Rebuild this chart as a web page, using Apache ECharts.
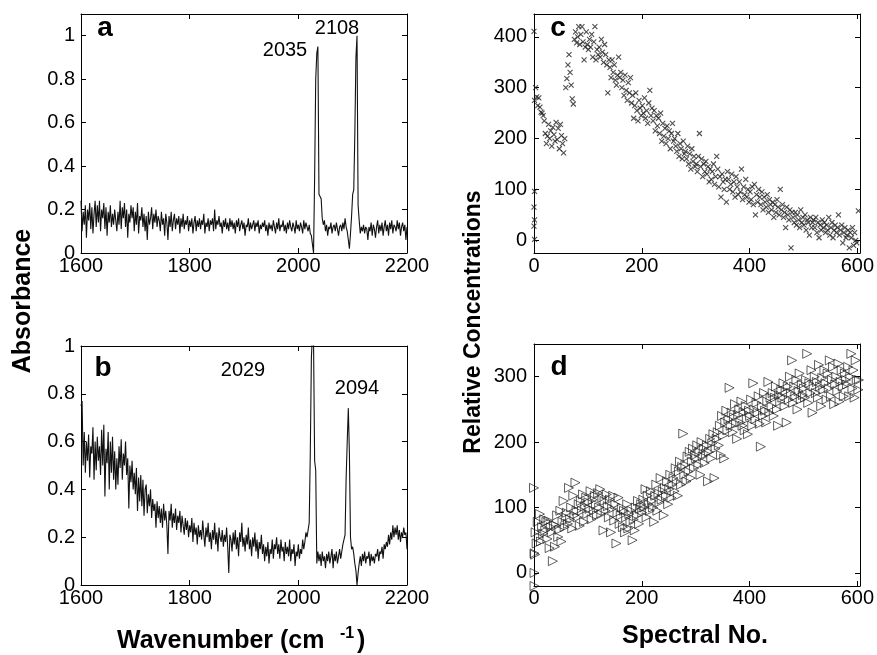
<!DOCTYPE html>
<html>
<head>
<meta charset="utf-8">
<script src="https://cdn.jsdelivr.net/npm/echarts@6/dist/echarts.min.js"></script>
<style>
  html, body {margin: 0; padding: 0; background: #fff;}
  #chart {width: 877px; height: 655px;}
</style>
</head>
<body>
<div id="chart"></div>
<script>
/* jshint esversion: 6 */

// wavenumber grid of the spectra: 1600 .. 2200 cm-1, one point every 2 cm-1
var waveStart = 1600;
var waveStep = 2;

// spectrum a
var absA = [
  0.24, 0.10, 0.19, 0.13, 0.22, 0.07, 0.20, 0.15, 0.23, 0.11,
  0.21, 0.09, 0.18, 0.24, 0.12, 0.22, 0.14, 0.24, 0.10, 0.20,
  0.16, 0.23, 0.11, 0.21, 0.08, 0.19, 0.14, 0.22, 0.12, 0.18,
  0.13, 0.20, 0.15, 0.10, 0.19, 0.13, 0.24, 0.11, 0.21, 0.16,
  0.23, 0.12, 0.20, 0.07, 0.18, 0.14, 0.22, 0.16, 0.21, 0.10,
  0.19, 0.13, 0.23, 0.09, 0.17, 0.15, 0.21, 0.12, 0.18, 0.10,
  0.17, 0.06, 0.19, 0.13, 0.16, 0.21, 0.11, 0.18, 0.14, 0.20,
  0.12, 0.17, 0.15, 0.10, 0.19, 0.13, 0.16, 0.08, 0.18, 0.14,
  0.06, 0.17, 0.12, 0.19, 0.10, 0.15, 0.18, 0.11, 0.16, 0.13,
  0.17, 0.09, 0.16, 0.12, 0.18, 0.11, 0.15, 0.13, 0.17, 0.10,
  0.15, 0.12, 0.16, 0.09, 0.14, 0.17, 0.10, 0.15, 0.12, 0.16,
  0.11, 0.15, 0.13, 0.18, 0.09, 0.14, 0.12, 0.16, 0.10, 0.15,
  0.13, 0.16, 0.10, 0.20, 0.11, 0.15, 0.13, 0.17, 0.12, 0.14,
  0.09, 0.15, 0.12, 0.16, 0.11, 0.14, 0.10, 0.16, 0.12, 0.15,
  0.11, 0.14, 0.09, 0.15, 0.12, 0.16, 0.10, 0.13, 0.15, 0.11,
  0.14, 0.08, 0.13, 0.12, 0.16, 0.10, 0.14, 0.11, 0.13, 0.15,
  0.10, 0.14, 0.12, 0.15, 0.09, 0.13, 0.11, 0.14, 0.12, 0.15,
  0.10, 0.13, 0.08, 0.14, 0.11, 0.13, 0.10, 0.15, 0.12, 0.09,
  0.14, 0.11, 0.16, 0.10, 0.13, 0.12, 0.15, 0.10, 0.13, 0.09,
  0.14, 0.11, 0.15, 0.12, 0.10, 0.14, 0.12, 0.09, 0.15, 0.11,
  0.13, 0.10, 0.14, 0.12, 0.09, 0.15, 0.11, 0.14, 0.12, 0.10,
  0.13, 0.09, 0.08, 0.04, 0.00, 0.35, 0.80, 0.92, 0.95, 0.27,
  0.26, 0.25, 0.16, 0.13, 0.15, 0.10, 0.13, 0.08, 0.12, 0.11,
  0.14, 0.09, 0.12, 0.13, 0.10, 0.14, 0.11, 0.08, 0.12, 0.13,
  0.10, 0.14, 0.11, 0.16, 0.12, 0.10, 0.06, 0.02, 0.09, 0.17,
  0.27, 0.29, 0.55, 0.90, 1.00, 0.22, 0.15, 0.09, 0.12, 0.10,
  0.13, 0.09, 0.12, 0.11, 0.06, 0.12, 0.10, 0.14, 0.08, 0.13,
  0.11, 0.07, 0.12, 0.15, 0.09, 0.13, 0.10, 0.14, 0.08, 0.12,
  0.15, 0.10, 0.13, 0.08, 0.14, 0.11, 0.15, 0.09, 0.13, 0.12,
  0.10, 0.15, 0.11, 0.14, 0.08, 0.12, 0.14, 0.10, 0.13, 0.06,
  0.12
];

// spectrum b
var absB = [
  0.75, 0.77, 0.50, 0.64, 0.47, 0.60, 0.52, 0.63, 0.45, 0.58,
  0.55, 0.66, 0.44, 0.60, 0.48, 0.62, 0.52, 0.58, 0.46, 0.65,
  0.50, 0.67, 0.37, 0.57, 0.51, 0.64, 0.40, 0.60, 0.47, 0.62,
  0.44, 0.56, 0.40, 0.53, 0.42, 0.58, 0.49, 0.61, 0.44, 0.55,
  0.50, 0.60, 0.46, 0.53, 0.32, 0.50, 0.43, 0.52, 0.40, 0.47,
  0.38, 0.49, 0.31, 0.45, 0.35, 0.46, 0.33, 0.44, 0.29, 0.40,
  0.42, 0.30, 0.38, 0.33, 0.40, 0.28, 0.36, 0.31, 0.34, 0.24,
  0.35, 0.28, 0.33, 0.26, 0.32, 0.24, 0.34, 0.27, 0.31, 0.25,
  0.13, 0.31, 0.27, 0.34, 0.24, 0.30, 0.26, 0.32, 0.23, 0.29,
  0.26, 0.31, 0.22, 0.29, 0.25, 0.21, 0.28, 0.23, 0.27, 0.20,
  0.25, 0.22, 0.28, 0.18, 0.26, 0.21, 0.24, 0.17, 0.25, 0.20,
  0.23, 0.19, 0.27, 0.21, 0.16, 0.24, 0.20, 0.26, 0.18, 0.22,
  0.15, 0.23, 0.19, 0.26, 0.17, 0.22, 0.14, 0.24, 0.20, 0.18,
  0.23, 0.16, 0.21, 0.18, 0.24, 0.16, 0.05, 0.21, 0.19, 0.14,
  0.22, 0.17, 0.23, 0.15, 0.20, 0.12, 0.22, 0.18, 0.26, 0.16,
  0.20, 0.14, 0.21, 0.17, 0.24, 0.15, 0.19, 0.12, 0.20, 0.16,
  0.22, 0.14, 0.19, 0.11, 0.18, 0.15, 0.21, 0.13, 0.17, 0.10,
  0.16, 0.12, 0.18, 0.09, 0.15, 0.13, 0.19, 0.11, 0.17, 0.15,
  0.20, 0.13, 0.17, 0.11, 0.19, 0.14, 0.16, 0.10, 0.18, 0.13,
  0.16, 0.12, 0.19, 0.10, 0.15, 0.13, 0.17, 0.08, 0.14, 0.12,
  0.17, 0.11, 0.15, 0.13, 0.19, 0.15, 0.18, 0.22, 0.20, 0.23,
  0.26, 0.55, 0.95, 1.05, 1.02, 0.52, 0.48, 0.09, 0.14, 0.10,
  0.13, 0.08, 0.14, 0.10, 0.12, 0.07, 0.13, 0.10, 0.14, 0.09,
  0.12, 0.15, 0.07, 0.13, 0.10, 0.14, 0.09, 0.12, 0.15, 0.11,
  0.14, 0.17, 0.19, 0.21, 0.45, 0.60, 0.74, 0.55, 0.20, 0.15,
  0.16, 0.13, 0.09, 0.06, 0.00, 0.05, 0.09, 0.12, 0.08, 0.13,
  0.10, 0.14, 0.09, 0.12, 0.11, 0.14, 0.08, 0.13, 0.10, 0.12,
  0.09, 0.13, 0.12, 0.15, 0.10, 0.14, 0.13, 0.16, 0.11, 0.17,
  0.15, 0.18, 0.16, 0.21, 0.17, 0.22, 0.19, 0.25, 0.20, 0.24,
  0.21, 0.25, 0.19, 0.23, 0.18, 0.22, 0.20, 0.24, 0.21, 0.22,
  0.15
];

// concentrations, spectral no. 1, 3, 5 ... 599
var concC = [
  275, 300, 282, 265, 280, 262, 252, 250, 245, 235,
  210, 190, 205, 228, 200, 215, 185, 222, 208, 195,
  232, 198, 220, 180, 228, 206, 190, 172, 200, 300,
  318, 345, 365, 330, 305, 278, 268, 395, 410, 388,
  400, 420, 385, 405, 420, 390, 355, 380, 410, 385,
  375, 395, 380, 405, 360, 390, 420, 355, 375, 365,
  380, 360, 395, 370, 350, 385, 365, 345, 290, 355,
  340, 320, 355, 330, 345, 315, 305, 325, 360, 320,
  330, 300, 315, 285, 325, 295, 275, 310, 290, 320,
  270, 285, 240, 265, 290, 255, 235, 275, 260, 245,
  265, 250, 280, 240, 255, 230, 270, 295, 245, 260,
  235, 255, 215, 245, 225, 240, 210, 250, 195, 230,
  205, 220, 190, 225, 200, 215, 180, 210, 230, 195,
  200, 185, 175, 210, 165, 190, 180, 160, 195, 170,
  175, 160, 185, 150, 170, 140, 180, 155, 165, 145,
  150, 135, 165, 210, 145, 160, 125, 150, 135, 155,
  130, 145, 115, 140, 120, 135, 150, 110, 125, 165,
  140, 105, 125, 85, 130, 115, 100, 120, 75, 135,
  120, 100, 110, 130, 95, 115, 85, 125, 105, 90,
  115, 95, 140, 80, 105, 90, 120, 85, 100, 75,
  95, 80, 105, 70, 110, 50, 90, 75, 100, 85,
  70, 95, 60, 85, 75, 65, 90, 55, 80, 70,
  60, 75, 45, 70, 55, 80, 65, 50, 100, 60,
  70, 45, 55, 25, 65, 50, 40, 60, -15, 55,
  45, 35, 55, 30, 50, 40, 25, 60, 35, 45,
  30, 50, 20, 40, 35, 10, 45, 25, 35, 40,
  25, 45, 15, 35, 5, 30, 20, 40, 25, 35,
  15, 30, 20, 45, 10, 25, 35, 5, 20, 30,
  15, 25, 50, 10, 20, 30, -5, 15, 25, 5,
  10, 20, -15, 15, 5, 25, -10, 15, 0, -5
];
// extra points of c off the regular grid [spectral no., value]
var extraC = [[0, 411], [1, 96], [0, 65], [1, 40], [0, 28], [1, 2], [602, 58]];

var concD = [
  30, 62, 45, 78, 55, 90, 48, 70, 60, 82,
  65, 78, 52, 80, 38, 70, 62, 18, 74, 40,
  72, 88, 55, 66, 95, 48, 78, 110, 70, 85,
  92, 75, 130, 82, 100, 68, 118, 88, 138, 95,
  85, 105, 72, 110, 95, 120, 78, 102, 115, 90,
  108, 98, 125, 82, 112, 95, 118, 105, 88, 122,
  100, 128, 90, 115, 65, 110, 95, 120, 102, 85,
  112, 62, 98, 118, 80, 105, 45, 92, 115, 75,
  88, 100, 70, 95, 62, 85, 105, 68, 90, 78,
  95, 50, 82, 65, 100, 88, 110, 75, 98, 105,
  92, 112, 100, 128, 85, 118, 105, 95, 125, 110,
  100, 78, 118, 135, 95, 122, 108, 145, 112, 125,
  88, 130, 118, 140, 105, 128, 150, 115, 135, 145,
  125, 160, 140, 118, 155, 170, 135, 162, 213, 150,
  165, 140, 178, 155, 185, 145, 170, 190, 160, 180,
  175, 195, 165, 185, 150, 200, 178, 190, 168, 182,
  195, 140, 185, 205, 175, 198, 212, 145, 190, 205,
  215, 195, 225, 180, 240, 210, 175, 230, 248, 218,
  235, 283, 225, 245, 215, 238, 258, 228, 205, 242,
  250, 230, 262, 225, 245, 218, 255, 235, 212, 248,
  240, 265, 225, 290, 250, 235, 260, 245, 270, 228,
  193, 255, 240, 275, 248, 230, 262, 292, 245, 268,
  255, 275, 240, 268, 285, 250, 225, 272, 262, 280,
  268, 290, 255, 278, 230, 285, 265, 300, 275, 325,
  260, 285, 270, 295, 250, 278, 305, 265, 288, 272,
  282, 268, 295, 335, 260, 290, 275, 310, 245, 285,
  300, 275, 292, 268, 318, 285, 255, 298, 280, 310,
  290, 265, 305, 282, 325, 270, 295, 315, 258, 288,
  300, 278, 320, 262, 292, 310, 285, 270, 305, 295,
  288, 315, 270, 300, 335, 282, 310, 268, 325, 295
];
var extraD = [[0, 130], [1, 0], [1, -20], [2, 28], [602, 280], [603, 295]];

// tick labels
var waveTicks = [1600, 1800, 2000, 2200];
var absTicks = [0, 0.2, 0.4, 0.6, 0.8, 1];
var specTicks = [0, 200, 400, 600];
var concTicksC = [0, 100, 200, 300, 400];
var concTicksD = [0, 100, 200, 300];

var fontFamily = 'Liberation Sans, Arial, sans-serif';

function spectrum(vals) {
  return vals.map(function (v, i) { return [waveStart + waveStep * i, v]; });
}
function concSeries(vals, extra) {
  return vals.map(function (v, i) { return [1 + 2 * i, v]; }).concat(extra);
}

// axe principal (etiquettes) ou axe du cadre (ticks seulement)
function axis(gi, pos, min, max, ticks, labels, margin) {
  return {
    type: 'value', gridIndex: gi, position: pos, min: min, max: max,
    axisLine: {show: true, onZero: false, lineStyle: {color: '#000', width: 1}},
    axisTick: {show: true, inside: true, length: 5, customValues: ticks, lineStyle: {color: '#000'}},
    axisLabel: {show: labels, customValues: ticks, color: '#000', fontFamily: fontFamily,
      fontSize: 20, margin: margin, formatter: function (v) { return String(v); }},
    splitLine: {show: false}
  };
}

function txt(x, y, text, size, bold, align, rot) {
  return {
    type: 'text', x: x, y: y, rotation: rot || 0, silent: true,
    style: {text: text, fill: '#000', fontFamily: fontFamily, fontSize: size,
      fontWeight: bold ? 'bold' : 'normal', align: align || 'center', verticalAlign: 'middle'}
  };
}

var chart = echarts.init(document.getElementById('chart'), null, {renderer: 'canvas'});

var option = {
  animation: false,
  backgroundColor: '#fff',
  grid: [
    {left: 81, top: 14, width: 326, height: 239},
    {left: 81, top: 346, width: 326, height: 239},
    {left: 534, top: 14, width: 327, height: 239},
    {left: 534, top: 344, width: 327, height: 242}
  ],
  xAxis: [
    axis(0, 'bottom', 1600, 2200, waveTicks, true, 3),
    axis(1, 'bottom', 1600, 2200, waveTicks, true, 3),
    axis(2, 'bottom', 0, 605, specTicks, true, 3),
    axis(3, 'bottom', 0, 605, specTicks, true, 2),
    axis(0, 'top', 1600, 2200, waveTicks, false, 3),
    axis(1, 'top', 1600, 2200, waveTicks, false, 3),
    axis(2, 'top', 0, 605, specTicks, false, 3),
    axis(3, 'top', 0, 605, specTicks, false, 3)
  ],
  yAxis: [
    axis(0, 'left', 0, 1.1, absTicks, true, 6),
    axis(1, 'left', 0, 1, absTicks, true, 6),
    axis(2, 'left', -25, 445, concTicksC, true, 7),
    axis(3, 'left', -20, 350, concTicksD, true, 7),
    axis(0, 'right', 0, 1.1, absTicks, false, 6),
    axis(1, 'right', 0, 1, absTicks, false, 6),
    axis(2, 'right', -25, 445, concTicksC, false, 7),
    axis(3, 'right', -20, 350, concTicksD, false, 7)
  ],
  series: [
    {
      type: 'line', xAxisIndex: 0, yAxisIndex: 0, data: spectrum(absA),
      symbol: 'none', lineStyle: {color: '#111', width: 1.1}, silent: true
    },
    {
      type: 'line', xAxisIndex: 1, yAxisIndex: 1, data: spectrum(absB),
      symbol: 'none', lineStyle: {color: '#111', width: 1.1}, silent: true
    },
    {
      type: 'scatter', xAxisIndex: 2, yAxisIndex: 2, data: concSeries(concC, extraC),
      symbol: 'path://M0,0L10,10M10,0L0,10', symbolSize: 5, silent: true,
      itemStyle: {color: '#222', borderColor: '#222', borderWidth: 1.1}
    },
    {
      type: 'scatter', xAxisIndex: 3, yAxisIndex: 3, data: concSeries(concD, extraD),
      symbol: 'triangle', symbolRotate: -90, symbolSize: 9, silent: true,
      itemStyle: {color: 'rgba(0,0,0,0)', borderColor: '#222', borderWidth: 0.9}
    }
  ],
  graphic: [
    // lettres des panneaux
    txt(105, 28, 'a', 28, true),
    txt(103, 368, 'b', 28, true),
    txt(558, 28, 'c', 28, true),
    txt(559, 367, 'd', 28, true),
    // etiquettes des pics
    txt(285, 50, '2035', 20, false),
    txt(337, 28, '2108', 20, false),
    txt(243, 370, '2029', 20, false),
    txt(357, 388, '2094', 20, false),
    // titres des axes
    txt(23, 301, 'Absorbance', 25, true, 'center', Math.PI / 2),
    txt(117, 641, 'Wavenumber (cm', 25, true, 'left'),
    txt(340, 634, '-1', 16, true, 'left'),
    txt(357, 641, ')', 25, true, 'left'),
    txt(474, 322, 'Relative Concentrations', 23, true, 'center', Math.PI / 2),
    txt(695, 636, 'Spectral No.', 25, true)
  ]
};

option && chart.setOption(option);
</script>
</body>
</html>
